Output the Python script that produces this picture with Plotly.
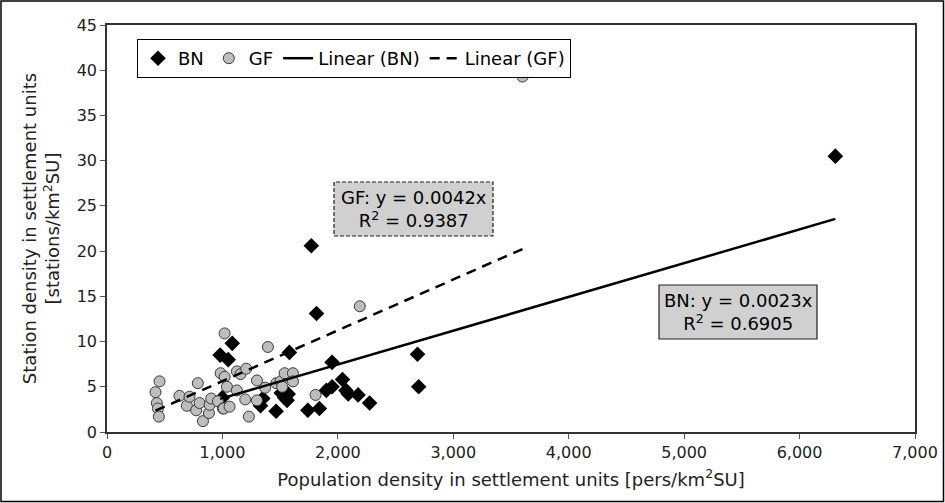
import numpy as np
import plotly.graph_objects as go

# ---- data ----
bn_x = [980, 1000, 1050, 1085, 1330, 1350, 1465, 1510, 1540, 1560, 1570, 1580,
        1740, 1770, 1815, 1840, 1900, 1950, 1950, 2040, 2070, 2090, 2175, 2275,
        2690, 2700, 6310]
bn_y = [8.5, 3.8, 8.0, 9.8, 2.9, 3.7, 2.3, 4.3, 3.8, 3.5, 4.2, 8.8,
        2.4, 20.6, 13.1, 2.6, 4.6, 5.0, 7.7, 5.8, 4.6, 4.2, 4.1, 3.2,
        8.6, 5.0, 30.5]

gf_x = [420, 432, 441, 449, 455, 628, 692, 715, 773, 787, 802, 831, 883, 889,
        903, 961, 984, 1004, 1011, 1019, 1019, 1039, 1062, 1125, 1125, 1157,
        1198, 1206, 1229, 1299, 1299, 1371, 1394, 1467, 1504, 1518, 1539, 1611,
        1611, 1807, 2190, 3600]
gf_y = [4.4, 3.2, 2.6, 1.7, 5.6, 4.0, 2.9, 3.9, 2.4, 5.4, 3.2, 1.2, 2.1, 3.0,
        3.7, 3.4, 6.5, 2.6, 2.6, 6.1, 10.9, 5.0, 2.8, 4.6, 6.7, 6.4,
        3.6, 7.0, 1.7, 5.7, 3.5, 4.9, 9.4, 5.4, 5.6, 5.0, 6.5, 6.5,
        5.6, 4.1, 13.9, 39.3]

x_ticks = [0, 1000, 2000, 3000, 4000, 5000, 6000, 7000]
y_ticks = [0, 5, 10, 15, 20, 25, 30, 35, 40, 45]

bn_label = "BN: y = 0.0023x<br>R<sup>2</sup> = 0.6905"
gf_label = "GF: y = 0.0042x<br>R<sup>2</sup> = 0.9387"


def fit_through_origin(xs, ys):
    xs = np.asarray(xs, float)
    ys = np.asarray(ys, float)
    k = (xs * ys).sum() / (xs * xs).sum()
    lx = np.array([xs.min(), xs.max()])
    return lx, k * lx


bn_lx, bn_ly = fit_through_origin(bn_x, bn_y)
gf_lx, gf_ly = fit_through_origin(gf_x, gf_y)

FONT = "DejaVu Sans"

fig = go.Figure()
fig.add_trace(go.Scatter(
    x=bn_x, y=bn_y, mode="markers", name="BN",
    marker=dict(symbol="diamond", size=12, color="black", line=dict(width=0))))
fig.add_trace(go.Scatter(
    x=gf_x, y=gf_y, mode="markers", name="GF",
    marker=dict(symbol="circle", size=11, color="#BDBDBD",
                line=dict(color="#3a3a3a", width=1))))
fig.add_trace(go.Scatter(
    x=bn_lx, y=bn_ly, mode="lines", name="Linear (BN)",
    line=dict(color="black", width=2.5)))
fig.add_trace(go.Scatter(
    x=gf_lx, y=gf_ly, mode="lines", name="Linear (GF)",
    line=dict(color="black", width=2.5, dash="10px,7px")))

W, H = 945, 503
L, R, T, B = 107, 30, 25, 71
pw, ph = W - L - R, H - T - B


def px_x(p):
    return (p - L) / pw


def px_y(p):
    return (H - B - p) / ph


shapes = [
    # outer figure border
    dict(type="rect", xref="paper", yref="paper",
         x0=px_x(1), x1=px_x(W - 1.5), y0=px_y(H - 1.5), y1=px_y(1),
         line=dict(color="black", width=1.5), fillcolor="rgba(0,0,0,0)", layer="below"),
    # GF label box (dashed)
    dict(type="rect", xref="paper", yref="paper",
         x0=px_x(334), x1=px_x(493), y0=px_y(236), y1=px_y(182),
         line=dict(color="#222", width=1.2, dash="4px,2px"), fillcolor="#D0D0D0", layer="above"),
    # BN label box
    dict(type="rect", xref="paper", yref="paper",
         x0=px_x(659), x1=px_x(817), y0=px_y(339), y1=px_y(285),
         line=dict(color="#222", width=1.2), fillcolor="#D0D0D0", layer="above"),
]

annotations = [
    dict(xref="paper", yref="paper", x=px_x(413.5), y=px_y(209), text=gf_label,
         xanchor="center", yanchor="middle",
         showarrow=False, font=dict(family=FONT, size=18, color="black"), align="center"),
    dict(xref="paper", yref="paper", x=px_x(738), y=px_y(312), text=bn_label,
         xanchor="center", yanchor="middle",
         showarrow=False, font=dict(family=FONT, size=18, color="black"), align="center"),
]

fig.update_layout(
    width=W, height=H,
    margin=dict(l=L, r=R, t=T, b=B),
    paper_bgcolor="white", plot_bgcolor="white",
    font=dict(family=FONT, size=16, color="#222"),
    showlegend=True,
    legend=dict(orientation="h", x=px_x(137), y=px_y(39), xanchor="left", yanchor="top",
                bgcolor="white", bordercolor="black", borderwidth=1,
                font=dict(family=FONT, size=18, color="black"),
                itemwidth=30, tracegroupgap=0),
    shapes=shapes, annotations=annotations,
)
fig.update_xaxes(range=[0, 7000], tickvals=x_ticks, tickformat=",d", automargin=False,
                 showgrid=False, zeroline=False, showline=True, mirror=True,
                 linecolor="#333", linewidth=1.5, ticks="outside", ticklen=5,
                 tickcolor="#555", tickfont=dict(size=16, color="#222"),
                 title=dict(text="Population density in settlement units [pers/km<sup>2</sup>SU]",
                            font=dict(size=18, color="#222"), standoff=12))
fig.update_yaxes(range=[0, 45], tickvals=y_ticks, automargin=False,
                 showgrid=False, zeroline=False, showline=True, mirror=True,
                 linecolor="#333", linewidth=1.5, ticks="outside", ticklen=5,
                 tickcolor="#555", tickfont=dict(size=16, color="#222"),
                 title=dict(text="Station density in settlement units<br>[stations/km<sup>2</sup>SU]",
                            font=dict(size=18, color="#222"), standoff=12))

fig.write_html("out.html", config={"displayModeBar": False},
               post_script="document.body.style.margin='0';document.body.style.overflow='hidden';")
